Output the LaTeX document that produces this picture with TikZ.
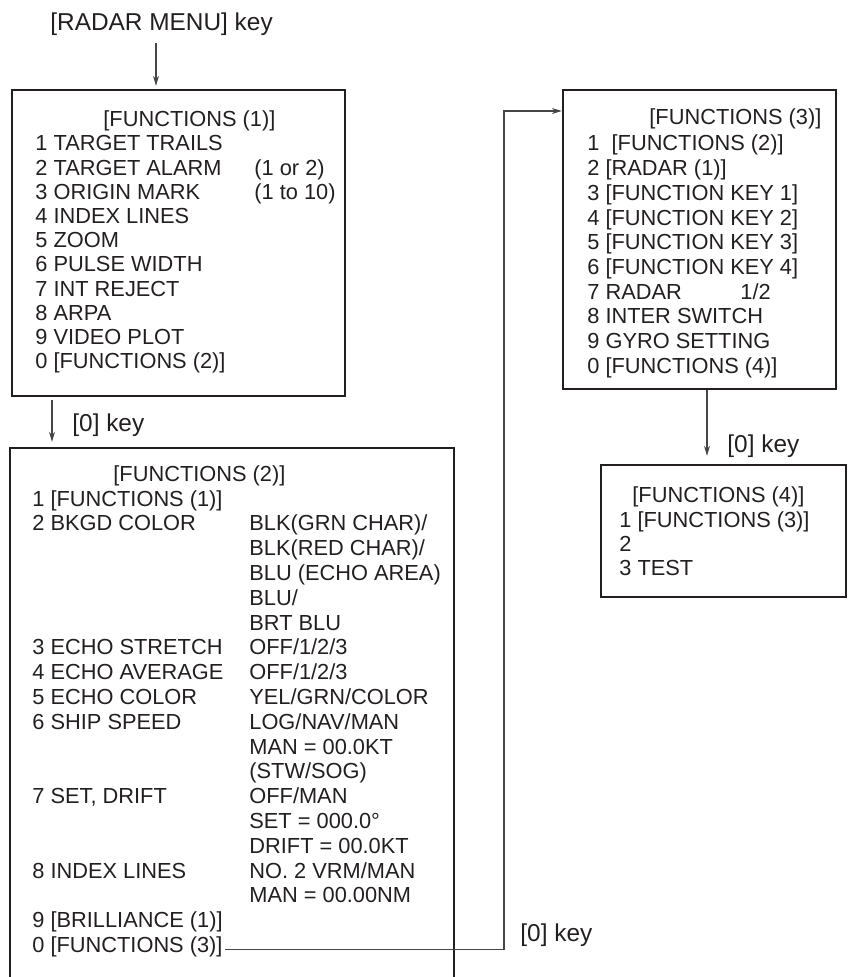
\documentclass[tikz,border=0pt]{standalone}
\usepackage{fontspec}
\setmainfont{Liberation Sans}
\usetikzlibrary{arrows.meta,positioning,fit,calc}
\definecolor{mnink}{RGB}{35,31,32}
\definecolor{mnline}{RGB}{70,70,70}

\tikzset{
  menubox/.style={draw=mnink,line width=1.2pt,inner sep=0pt},
  menuitem/.style={anchor=base west,inner sep=0pt},
  keylabel/.style={menuitem,font=\fontsize{12.2}{14}\selectfont},
  link/.style={draw=mnline,line width=0.6pt,-{Stealth[length=5pt,width=3pt]}}
}

\begin{document}
\begin{tikzpicture}[x=0.5pt,y=-0.5pt,every node/.style={font=\fontsize{10.9}{13}\selectfont,text=mnink}]
  \useasboundingbox (0,0) rectangle (867,977);
  % Menu boxes
  \node[menubox,fit={(12,90) (345,396)}] (f1) {};
  \node[menubox,fit={(10,448) (454,1010)}] (f2) {};
  \node[menubox,fit={(563,90) (836,389)}] (f3) {};
  \node[menubox,fit={(601,465) (846,597)}] (f4) {};
  % FUNCTIONS (1)
  \node[menuitem] (f1t) at (103,127) {[FUNCTIONS (1)]};
  \foreach \txt [count=\i from 0] in {1 TARGET TRAILS,2 TARGET ALARM,3 ORIGIN MARK,
      4 INDEX LINES,5 ZOOM,6 PULSE WIDTH,7 INT REJECT,8 ARPA,9 VIDEO PLOT,0 [FUNCTIONS (2)]}
    \node[menuitem] (f1l\i) at (35,151+24.2*\i) {\txt};
  \node[menuitem] (f1v1) at (254,175.2) {(1 or 2)};
  \node[menuitem] (f1v2) at (254,199.4) {(1 to 10)};
  % FUNCTIONS (2)
  \node[menuitem] (f2t) at (113,481) {[FUNCTIONS (2)]};
  \foreach \r/\txt in {0/{1 [FUNCTIONS (1)]},1/{2 BKGD COLOR},6/{3 ECHO STRETCH},
      7/{4 ECHO AVERAGE},8/{5 ECHO COLOR},9/{6 SHIP SPEED},12/{7 SET, DRIFT},
      15/{8 INDEX LINES},17/{9 [BRILLIANCE (1)]},18/{0 [FUNCTIONS (3)]}}
    \node[menuitem] (f2l\r) at (32,506+24.8*\r) {\txt};
  \foreach \r/\txt in {1/{BLK(GRN CHAR)/},2/{BLK(RED CHAR)/},3/{BLU (ECHO AREA)},
      4/{BLU/},5/{BRT BLU},6/{OFF/1/2/3},7/{OFF/1/2/3},8/{YEL/GRN/COLOR},
      9/{LOG/NAV/MAN},10/{MAN = 00.0KT},11/{(STW/SOG)},12/{OFF/MAN},
      13/{SET = 000.0°},14/{DRIFT = 00.0KT},15/{NO. 2 VRM/MAN},16/{MAN = 00.00NM}}
    \node[menuitem] (f2v\r) at (249,506+24.8*\r) {\txt};
  % FUNCTIONS (3)
  \node[menuitem] (f3t) at (649,125) {[FUNCTIONS (3)]};
  \foreach \txt [count=\i from 0] in {1~~[FUNCTIONS (2)],2 [RADAR (1)],3 [FUNCTION KEY 1],
      4 [FUNCTION KEY 2],5 [FUNCTION KEY 3],6 [FUNCTION KEY 4],7 RADAR,8 INTER SWITCH,
      9 GYRO SETTING,0 [FUNCTIONS (4)]}
    \node[menuitem] (f3l\i) at (587,151+24.7*\i) {\txt};
  \node[menuitem] (f3v6) at (740,299.2) {1/2};
  % FUNCTIONS (4)
  \node[menuitem] (f4t) at (632,502) {[FUNCTIONS (4)]};
  \foreach \txt [count=\i from 0] in {1 [FUNCTIONS (3)],2,3 TEST}
    \node[menuitem] (f4l\i) at (619,527+24*\i) {\txt};
  % Key labels
  \node[keylabel] (menukey) at (50,31) {[RADAR MENU] key};
  \node[keylabel] (key12) at (72,431) {[0] key};
  \node[keylabel] (key34) at (727,452) {[0] key};
  \node[keylabel] (key23) at (520,941) {[0] key};
  % Connectors
  \coordinate (a1) at (156,43);
  \coordinate (a2) at (52,400);
  \coordinate (a3) at (707,0);
  \coordinate (turn) at (504,111);
  \draw[link,shorten >=1.5pt] (a1) -- (a1 |- f1.north);
  \draw[link,shorten >=2.5pt] (a2) -- (a2 |- f2.north);
  \draw[link,shorten >=4pt] (f3.south -| a3) -- (f4.north -| a3);
  \draw[link] ([xshift=1pt,yshift=1.5pt]f2l18.base east) -| (turn) -- (turn -| f3.west);
\end{tikzpicture}
\end{document}
